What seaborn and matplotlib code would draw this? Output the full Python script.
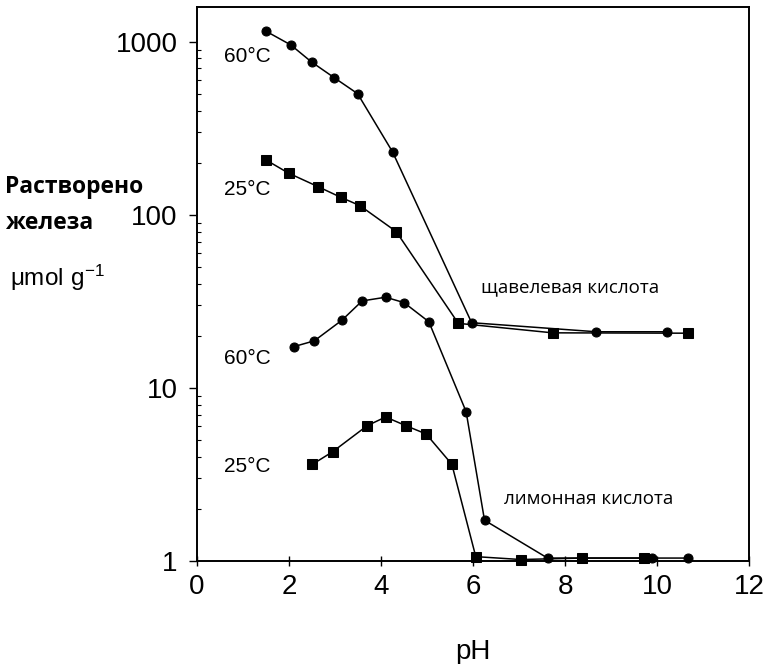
import numpy as np
import pandas as pd
import matplotlib
matplotlib.use('Agg')
import matplotlib.pyplot as plt
import matplotlib.ticker as mticker
import seaborn as sns

# Oxalic acid (щавелевая кислота)
ox60_ph = [1.49, 2.04, 2.49, 2.98, 3.49, 4.25, 5.97, 8.68, 10.22]
ox60_fe = [1153, 957, 763, 620, 501, 231, 23.8, 21.1, 21.1]
ox25_ph = [1.49, 1.99, 2.64, 3.13, 3.54, 4.33, 5.68, 7.73, 10.67]
ox25_fe = [208, 174, 145, 126, 113, 80, 23.6, 20.8, 20.7]

# Citric acid (лимонная кислота)
ci60_ph = [2.10, 2.55, 3.15, 3.59, 4.10, 4.50, 5.04, 5.85, 6.25, 7.62, 9.90, 10.67]
ci60_fe = [17.3, 18.7, 24.6, 31.8, 33.4, 31.1, 24.1, 7.29, 1.72, 1.04, 1.04, 1.04]
ci25_ph = [2.51, 2.95, 3.70, 4.10, 4.54, 4.98, 5.54, 6.06, 7.04, 8.36, 9.71]
ci25_fe = [3.62, 4.28, 6.05, 6.79, 6.05, 5.42, 3.62, 1.06, 1.02, 1.04, 1.04]

x_ticks = [0, 2, 4, 6, 8, 10, 12]
y_ticks = [1, 10, 100, 1000]
y_tick_labels = ['1', '10', '100', '1000']

sns.set_style('ticks')
plt.rcParams['font.family'] = ['Liberation Sans', 'DejaVu Sans']
plt.rcParams.update({
    'text.color': 'black',
    'axes.labelcolor': 'black',
    'xtick.color': 'black',
    'ytick.color': 'black',
})

fig = plt.figure(figsize=(7.69, 6.64), dpi=100)
ax = fig.add_axes([0.2562, 0.1551, 0.974 - 0.2562, 0.9899 - 0.1551])

series = [
    (ox60_ph, ox60_fe, 'o', 6.5),
    (ox25_ph, ox25_fe, 's', 7.0),
    (ci60_ph, ci60_fe, 'o', 6.5),
    (ci25_ph, ci25_fe, 's', 7.0),
]
for xs, ys, mk, ms in series:
    df = pd.DataFrame({'pH': xs, 'Fe': ys})
    sns.lineplot(data=df, x='pH', y='Fe', ax=ax, color='black', linewidth=1.1,
                 marker=mk, markersize=ms, markeredgecolor='black',
                 markerfacecolor='black', sort=False, estimator=None, clip_on=False)

ax.set_yscale('log')
ax.set_xlim(0, 12)
ax.set_ylim(1, 1592)

ax.xaxis.set_major_locator(mticker.FixedLocator(x_ticks))
ax.yaxis.set_major_locator(mticker.FixedLocator(y_ticks))
ax.yaxis.set_major_formatter(mticker.FixedFormatter(y_tick_labels))
ax.yaxis.set_minor_locator(mticker.LogLocator(base=10, subs=np.arange(2, 10)))
ax.yaxis.set_minor_formatter(mticker.NullFormatter())

ax.tick_params(axis='x', which='major', direction='inout', length=7, width=1.0,
               labelsize=20, pad=6)
ax.tick_params(axis='y', which='major', direction='out', length=6, width=1.0,
               labelsize=20, pad=8)
ax.tick_params(axis='y', which='minor', direction='in', length=3, width=0.8)

for sp in ax.spines.values():
    sp.set_visible(True)
    sp.set_linewidth(1.4)
    sp.set_color('black')

ax.set_xlabel('pH', fontsize=20, labelpad=28)
ax.set_ylabel('')

# temperature labels
for txt, yv in [('60°C', 820), ('25°C', 140), ('60°C', 14.8), ('25°C', 3.5)]:
    ax.text(1.09, yv, txt, fontsize=15, ha='center', va='center')

ax.text(8.12, 38.3, 'щавелевая кислота', fontsize=13.5, ha='center', va='center',
        family=['Open Sans', 'DejaVu Sans'])
ax.text(8.52, 2.28, 'лимонная кислота', fontsize=13.5, ha='center', va='center',
        family=['Open Sans', 'DejaVu Sans'])

# y axis label
fig.text(5 / 769, 1 - 187 / 664, 'Растворено', fontsize=16.5, fontweight='bold',
         ha='left', va='center', family=['Open Sans', 'DejaVu Sans'])
fig.text(5 / 769, 1 - 223 / 664, 'железа', fontsize=16.5, fontweight='bold',
         ha='left', va='center', family=['Open Sans', 'DejaVu Sans'])
fig.text(10 / 769, 1 - 278 / 664, r'$\mathregular{\mu mol\ g^{-1}}$', fontsize=17.5,
         ha='left', va='center')

fig.savefig('out.png', dpi=100, facecolor='white')
plt.close(fig)
